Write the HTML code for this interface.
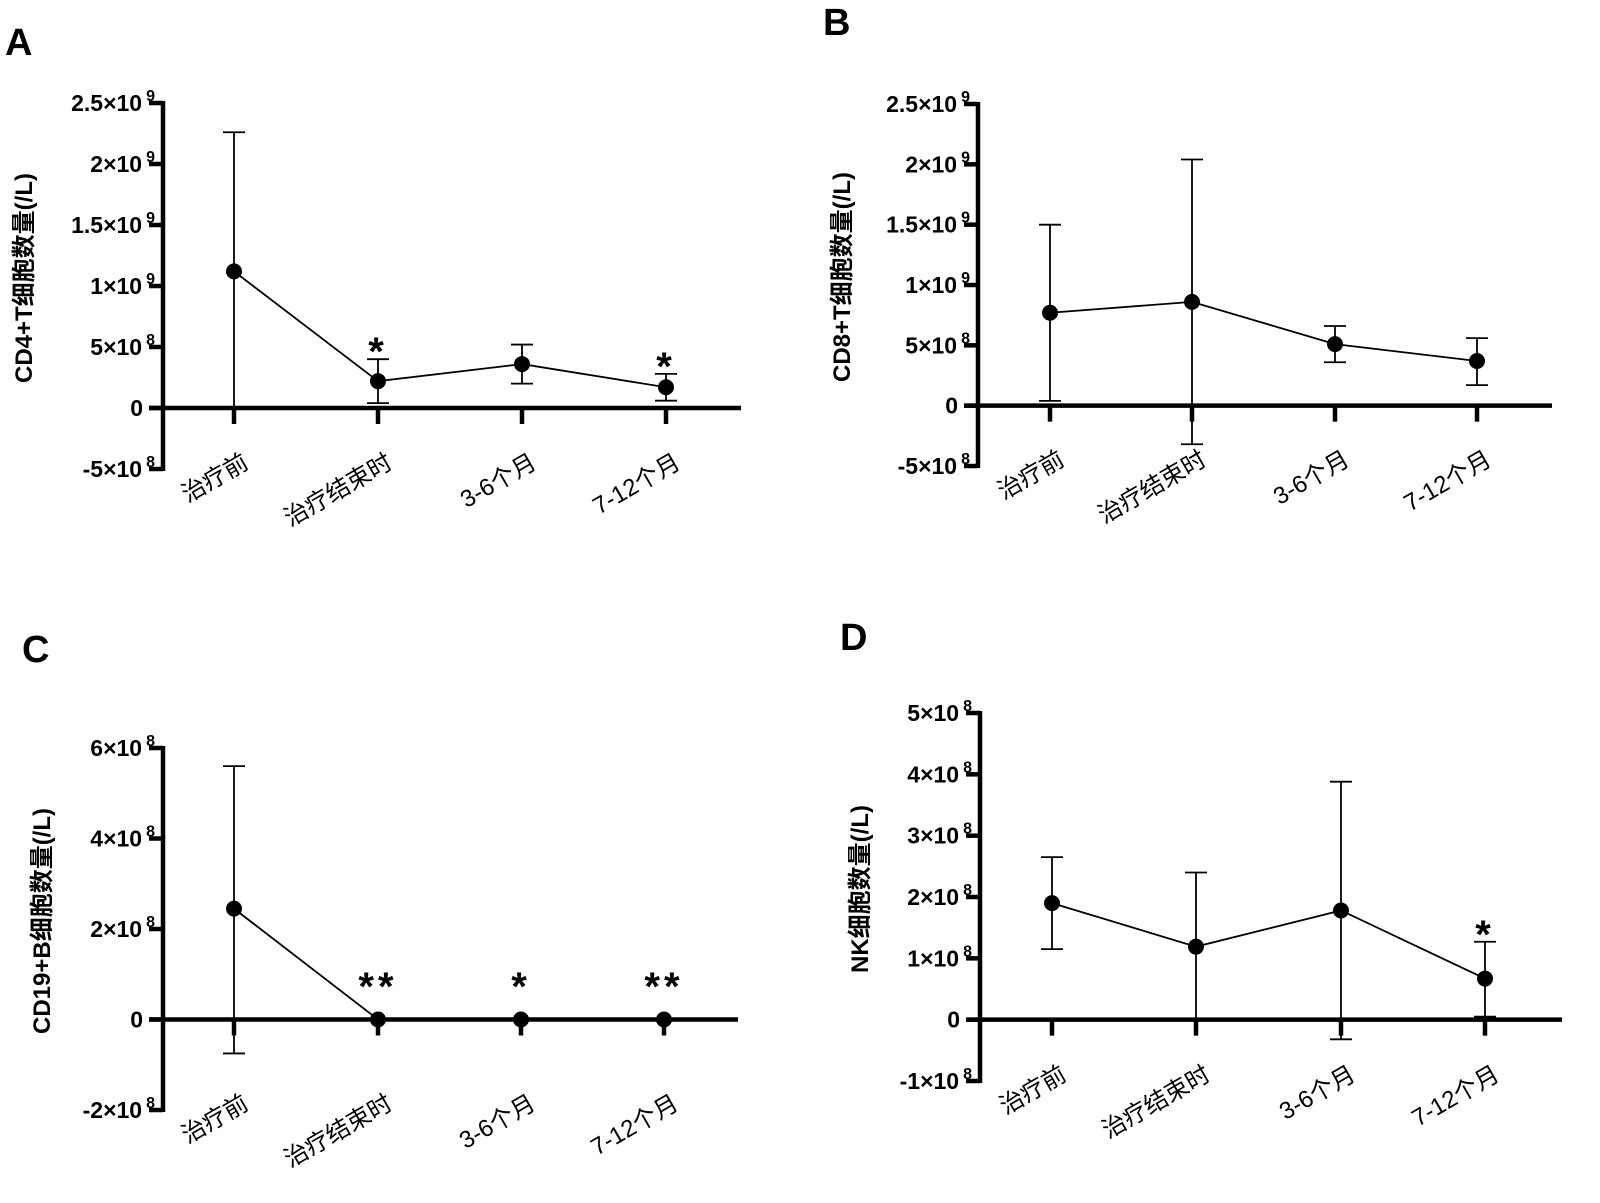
<!DOCTYPE html>
<html><head><meta charset="utf-8"><style>
html,body{margin:0;padding:0;background:#fff;}
svg{display:block;font-family:"Liberation Sans","Noto Sans CJK SC",sans-serif;}
</style></head><body>
<svg id="fig" width="1600" height="1203" viewBox="0 0 1600 1203" xmlns="http://www.w3.org/2000/svg"></svg>
<script>
const categories = ["治疗前","治疗结束时","3-6个月","7-12个月"];
const meanA = [1.12e9, 0.22e9, 0.36e9, 0.17e9];
const upA = [2.26e9, 0.40e9, 0.52e9, 0.28e9];
const loA = [0.0, 0.04e9, 0.20e9, 0.06e9];
const starsA = ["", "*", "", "*"];
const meanB = [0.77e9, 0.86e9, 0.51e9, 0.37e9];
const upB = [1.50e9, 2.04e9, 0.66e9, 0.56e9];
const loB = [0.04e9, -0.32e9, 0.36e9, 0.17e9];
const starsB = ["", "", "", ""];
const meanC = [2.45e8, 0, 0, 0];
const upC = [5.6e8, 0, 0, 0];
const loC = [-0.75e8, 0, 0, 0];
const starsC = ["", "**", "*", "**"];
const meanD = [1.90e8, 1.19e8, 1.78e8, 0.67e8];
const upD = [2.65e8, 2.40e8, 3.88e8, 1.27e8];
const loD = [1.15e8, 0.0, -0.32e8, 0.05e8];
const starsD = ["", "", "", "*"];
const ticksAB = [[-5e8,"-5×10","8"],[0,"0",""],[5e8,"5×10","8"],[1e9,"1×10","9"],[1.5e9,"1.5×10","9"],[2e9,"2×10","9"],[2.5e9,"2.5×10","9"]];
const ticksC = [[-2e8,"-2×10","8"],[0,"0",""],[2e8,"2×10","8"],[4e8,"4×10","8"],[6e8,"6×10","8"]];
const ticksD = [[-1e8,"-1×10","8"],[0,"0",""],[1e8,"1×10","8"],[2e8,"2×10","8"],[3e8,"3×10","8"],[4e8,"4×10","8"],[5e8,"5×10","8"]];

const NS="http://www.w3.org/2000/svg";
const svg=document.getElementById('fig');
function mk(tag,attrs,parent){const e=document.createElementNS(NS,tag);for(const k in attrs)e.setAttribute(k,attrs[k]);(parent||svg).appendChild(e);return e;}

function panel(o){
  const g=mk('g',{});
  
  
  const y=v=>o.y0+(v-o.vmin)/(o.vmax-o.vmin)*(o.y1-o.y0);
  const xs=o.xs;
  const zeroY=y(0);
  const L=mk('text',{x:o.lx,y:o.ly,'font-size':38,'font-weight':'bold'},g);L.textContent=o.id;
  
  
  const ya=mk('line',{x1:o.ax,x2:o.ax,y1:y(o.vmax)-2,y2:y(o.vmin)+2,stroke:'#000','stroke-width':4.5},g);
  
  
  o.ticks.forEach(t=>{
    const ty=y(t[0]);
    mk('line',{x1:o.ax-14,x2:o.ax,y1:ty,y2:ty,stroke:'#000','stroke-width':4.5},g);
    const tx=mk('text',{x:o.ax-20,y:ty+8,'font-size':23,'font-weight':'bold','text-anchor':'end'},g);
    
    
    const s1=mk('tspan',{},tx);s1.textContent=t[1];
    if(t[2]){const s2=mk('tspan',{'font-size':16,dy:-10,dx:4},tx);s2.textContent=t[2];tx.setAttribute('x',o.ax-8);}
  });
  const yt=mk('text',{x:0,y:0,'font-size':24,'font-weight':'bold','text-anchor':'middle',transform:`translate(${o.tx},${(y(o.vmax)+y(o.vmin))/2-8}) rotate(-90)`},g);
  yt.textContent=o.title;
  
  
  const xa=mk('line',{x1:o.ax-14,x2:o.axEnd,y1:zeroY,y2:zeroY,stroke:'#000','stroke-width':4.5},g);
  
  
  xs.forEach((x,i)=>{
    mk('line',{x1:x,x2:x,y1:zeroY,y2:zeroY+16,stroke:'#000','stroke-width':4.5},g);
    const cl=mk('text',{x:0,y:0,'font-size':24,'text-anchor':'end',transform:`translate(${x+16},${y(o.vmin)-2}) rotate(-30)`},g);
    cl.textContent=categories[i];
    
    
  });
  const pts=xs.map((x,i)=>x+','+y(o.mean[i])).join(' ');
  const pl=mk('polyline',{points:pts,fill:'none',stroke:'#000','stroke-width':1.8},g);
  
  
  xs.forEach((x,i)=>{
    if(o.up[i]!==o.lo[i]){
      const eb=mk('g',{},g);
      
      
      mk('line',{x1:x,x2:x,y1:y(o.up[i]),y2:y(o.lo[i]),stroke:'#000','stroke-width':1.8},eb);
      mk('line',{x1:x-11,x2:x+11,y1:y(o.up[i]),y2:y(o.up[i]),stroke:'#000','stroke-width':1.8},eb);
      mk('line',{x1:x-11,x2:x+11,y1:y(o.lo[i]),y2:y(o.lo[i]),stroke:'#000','stroke-width':1.8},eb);
    }
    const c=mk('circle',{cx:x,cy:y(o.mean[i]),r:8,fill:'#000'},g);
    
    
    if(o.stars[i]){
      const top=Math.min(y(o.up[i]),y(o.mean[i])-8);
      const st=mk('text',{x:x,y:top+6,'font-size':40,'font-weight':'bold','text-anchor':'middle','letter-spacing':4},g);
      st.textContent=o.stars[i];
      
      
      if(o.starY) st.setAttribute('y',o.starY);
    }
  });
}
panel({id:'A',lx:5,ly:55,ax:163,axEnd:741,y0:469,y1:103,vmin:-5e8,vmax:2.5e9,xs:[234,378,522,666],ticks:ticksAB,title:'CD4+T细胞数量(/L)',tx:32,mean:meanA,up:upA,lo:loA,stars:starsA});
panel({id:'B',lx:823,ly:35,ax:978,axEnd:1552,y0:466,y1:104,vmin:-5e8,vmax:2.5e9,xs:[1050,1192,1335,1477],ticks:ticksAB,title:'CD8+T细胞数量(/L)',tx:850,mean:meanB,up:upB,lo:loB,stars:starsB});
panel({id:'C',lx:22,ly:662,ax:163,axEnd:738,y0:1110,y1:748,vmin:-2e8,vmax:6e8,xs:[234,378,521,664],ticks:ticksC,title:'CD19+B细胞数量(/L)',tx:50,mean:meanC,up:upC,lo:loC,stars:starsC,starY:1000});
panel({id:'D',lx:840,ly:650,ax:980,axEnd:1562,y0:1081,y1:713,vmin:-1e8,vmax:5e8,xs:[1052,1196,1341,1485],ticks:ticksD,title:'NK细胞数量(/L)',tx:868,mean:meanD,up:upD,lo:loD,stars:starsD});
</script>
</body></html>
